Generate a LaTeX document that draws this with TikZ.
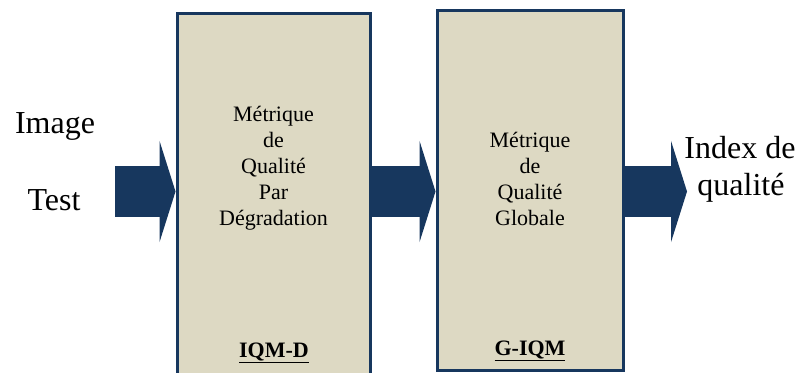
\documentclass[tikz,border=0pt]{standalone}
\usepackage{fontspec}
\setmainfont{Liberation Serif}
\usetikzlibrary{arrows.meta}
\definecolor{navy}{HTML}{17375E}
\definecolor{beige}{HTML}{DDD9C3}

\begin{document}
\begin{tikzpicture}[x=1pt, y=-1pt,
                block/.style={rectangle, draw=navy, line width=3pt, fill=beige, inner sep=0pt},
                blocktext/.style={align=center, font=\fontsize{22}{26}\selectfont, inner sep=0pt},
                tag/.style={anchor=base, font=\fontsize{22}{26}\selectfont\bfseries, inner sep=0pt},
                side/.style={anchor=base, font=\fontsize{32}{38}\selectfont, inner sep=0pt},
                flow/.style={navy, line width=51pt, -{Triangle[length=16pt, width=101pt]}}
            ]
            \useasboundingbox (0,0) rectangle (802,372);

            % Blocks
            \node[block, minimum width=193pt, minimum height=372pt] (iqmd) at (273.5,199) {};
            \node[block, minimum width=186.5pt, minimum height=359.3pt] (giqm) at (530.25,190.35) {};
            \node[blocktext] (iqmdtxt) at (273.5,168) {Métrique\\de\\Qualité\\Par\\Dégradation};
            \node[blocktext] (giqmtxt) at (530,178.5) {Métrique\\de\\Qualité\\Globale};
            \node[tag] (iqmdtag) at (274,357) {\underline{IQM-D}};
            \node[tag] (giqmtag) at (530,355) {\underline{G-IQM}};

            % Input and output
            \node[side] (img) at (55,133) {Image};
            \node[side] (tst) at (54,210) {Test};
            \node[side] (idx) at (740,158) {Index de};
            \node[side] (qual) at (741,195) {qualité};
            \coordinate (src) at (115,191.5);
            \coordinate (dst) at (687,191.5);

            % Flow arrows
            \draw[flow] (src) -- (src -| iqmd.west);
            \draw[flow] (src -| iqmd.east) -- (src -| giqm.west);
            \draw[flow] (src -| giqm.east) -- (dst);
            \end{tikzpicture}
\end{document}
